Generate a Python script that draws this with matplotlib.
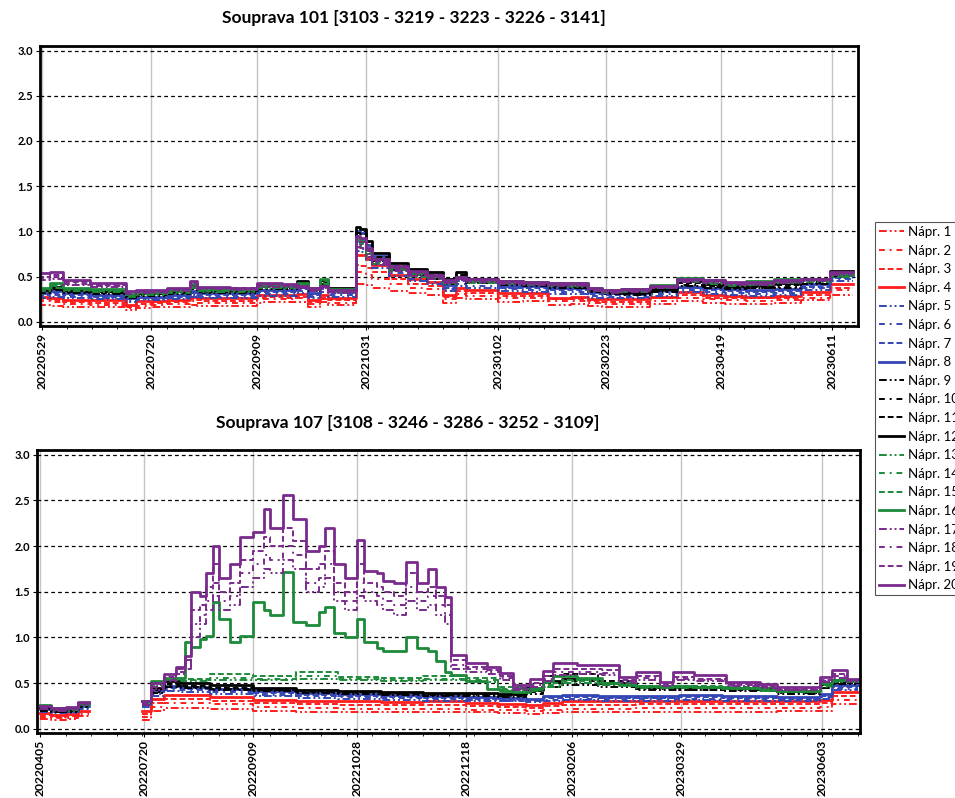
import matplotlib
matplotlib.use('Agg')
import matplotlib.pyplot as plt
import numpy as np
from matplotlib.ticker import FixedLocator, MultipleLocator

plt.rcParams['font.family'] = ['Lato', 'DejaVu Sans']

nan = np.nan

TITLE_TOP = 'Souprava 101 [3103 - 3219 - 3223 - 3226 - 3141]'
TITLE_BOTTOM = 'Souprava 107 [3108 - 3246 - 3286 - 3252 - 3109]'
LEGEND_LABELS = ['Nápr. 1', 'Nápr. 2', 'Nápr. 3', 'Nápr. 4', 'Nápr. 5',
                 'Nápr. 6', 'Nápr. 7', 'Nápr. 8', 'Nápr. 9', 'Nápr. 10',
                 'Nápr. 11', 'Nápr. 12', 'Nápr. 13', 'Nápr. 14', 'Nápr. 15',
                 'Nápr. 16', 'Nápr. 17', 'Nápr. 18', 'Nápr. 19', 'Nápr. 20']

# x axis = sample index (one per day), ticks labelled with the date
TOP_TICKS = [0, 52, 103, 155, 218, 270, 325, 378]
TOP_TICK_LABELS = ['20220529', '20220720', '20220909', '20221031',
                   '20230102', '20230223', '20230419', '20230611']
BOTTOM_TICKS = [0, 49, 100, 149, 200, 250, 301, 367]
BOTTOM_TICK_LABELS = ['20220405', '20220720', '20220909', '20221028',
                      '20221218', '20230206', '20230329', '20230603']

# ---- Souprava 101 ----
TOP_X = [-2, 4, 10, 23, 40, 45, 52, 60, 71, 74, 77, 90, 103, 106, 115, 122, 127,
         133, 137, 150, 152, 155, 158, 166, 175, 184, 192, 198, 203, 218, 230,
         242, 253, 261, 268, 277, 291, 304, 316, 327, 337, 350, 363, 377, 388]

TOP_RED = [
    [.19, .18, .17, .16, .13, .15, .16, .17, .19, .18, .18, .18, .21, .22, .22, .22, .17, .22, .19, .42, .42, .41, .38,
     .34, .32, .30, .21, .27, .25, .22, .23, .19, .20, .18, .17, .17, .20, .23, .21, .20, .20, .21, .24, .30, .30],
    [.23, .22, .20, .19, .15, .18, .19, .20, .23, .21, .21, .21, .25, .25, .25, .26, .20, .25, .21, .55, .55, .52, .48,
     .42, .38, .36, .25, .31, .29, .26, .27, .23, .23, .21, .20, .20, .23, .27, .25, .24, .23, .24, .27, .35, .35],
    [.25, .24, .22, .21, .17, .20, .21, .22, .25, .24, .23, .23, .27, .28, .27, .28, .22, .27, .24, .63, .62, .60, .55,
     .47, .42, .40, .28, .34, .32, .29, .29, .25, .25, .23, .22, .22, .26, .30, .27, .26, .26, .27, .30, .38, .38],
    [.28, .26, .24, .24, .19, .23, .23, .24, .28, .26, .26, .26, .30, .30, .30, .31, .24, .30, .26, .74, .74, .70, .63,
     .52, .47, .44, .30, .38, .35, .32, .32, .27, .28, .25, .25, .25, .28, .33, .30, .29, .28, .29, .33, .42, .42],
]
TOP_BLUE = [
    [.27, .28, .26, .25, .22, .24, .24, .25, .28, .27, .27, .27, .29, .29, .29, .32, .26, .33, .28, .78, .77, .68, .60,
     .51, .45, .42, .34, .40, .38, .34, .33, .31, .31, .27, .26, .27, .29, .33, .31, .30, .29, .30, .35, .45, .45],
    [.29, .30, .28, .27, .23, .25, .25, .27, .30, .28, .28, .28, .31, .31, .31, .34, .28, .36, .30, .82, .81, .72, .64,
     .54, .48, .44, .36, .42, .40, .36, .35, .33, .33, .29, .28, .28, .31, .35, .33, .32, .31, .32, .37, .47, .47],
    [.30, .32, .30, .28, .25, .27, .27, .28, .32, .30, .30, .30, .33, .33, .33, .36, .30, .38, .32, .88, .87, .78, .68,
     .57, .51, .47, .38, .45, .43, .38, .37, .35, .35, .31, .30, .30, .33, .37, .35, .34, .33, .34, .39, .49, .49],
    [.32, .34, .32, .30, .26, .28, .28, .30, .34, .32, .32, .32, .35, .35, .35, .39, .32, .41, .34, 1.00, .98, .85, .73,
     .61, .54, .50, .41, .49, .46, .40, .40, .37, .37, .33, .32, .32, .35, .39, .37, .36, .35, .36, .42, .52, .52],
]
TOP_BLACK = [
    [.32, .35, .32, .31, .27, .29, .29, .31, .36, .33, .32, .32, .36, .36, .36, .40, .34, .40, .34, .90, .89, .78, .67,
     .57, .52, .48, .42, .48, .43, .41, .40, .38, .37, .33, .31, .30, .33, .40, .38, .36, .37, .38, .42, .51, .51],
    [.33, .36, .33, .32, .28, .30, .30, .32, .37, .34, .33, .33, .37, .37, .37, .41, .35, .42, .35, .93, .92, .81, .69,
     .59, .54, .50, .43, .50, .44, .42, .41, .39, .38, .34, .32, .31, .34, .41, .39, .37, .38, .39, .43, .52, .52],
    [.34, .37, .34, .33, .29, .31, .31, .33, .39, .35, .34, .34, .38, .39, .38, .43, .36, .44, .36, .98, .97, .85, .72,
     .62, .56, .52, .45, .52, .46, .43, .42, .40, .39, .35, .33, .32, .35, .43, .40, .39, .39, .41, .45, .54, .54],
    [.35, .39, .35, .34, .30, .32, .32, .34, .41, .36, .35, .35, .40, .41, .40, .45, .37, .46, .37, 1.05, 1.03, .90, .76,
     .65, .59, .55, .47, .55, .48, .45, .44, .42, .40, .36, .34, .33, .36, .45, .42, .40, .41, .43, .47, .56, .56],
]
TOP_GREEN = [
    [.34, .38, .34, .33, .28, .30, .30, .32, .37, .34, .33, .33, .37, .37, .37, .39, .34, .42, .33, .85, .84, .73, .64,
     .56, .50, .47, .42, .46, .43, .42, .41, .40, .39, .34, .32, .33, .37, .44, .42, .40, .41, .43, .44, .50, .50],
    [.35, .40, .35, .34, .29, .31, .31, .33, .38, .35, .34, .34, .38, .38, .38, .40, .35, .43, .34, .88, .86, .75, .66,
     .57, .52, .48, .43, .47, .44, .43, .42, .41, .40, .35, .33, .34, .38, .45, .43, .41, .42, .44, .45, .51, .51],
    [.36, .41, .36, .35, .30, .32, .32, .34, .40, .36, .35, .35, .39, .40, .39, .41, .36, .45, .35, .90, .88, .77, .68,
     .59, .53, .50, .44, .48, .45, .44, .43, .42, .41, .36, .34, .35, .39, .47, .44, .42, .43, .45, .46, .52, .52],
    [.37, .43, .37, .36, .31, .33, .33, .35, .42, .37, .36, .36, .41, .41, .41, .43, .37, .48, .36, .93, .91, .80, .70,
     .61, .55, .51, .45, .50, .46, .45, .44, .43, .43, .37, .35, .36, .41, .49, .46, .43, .45, .47, .48, .53, .53],
]
TOP_PURPLE = [
    [.46, .48, .41, .39, .31, .32, .32, .34, .40, .36, .36, .35, .39, .39, .39, .37, .34, .37, .32, .83, .82, .72, .63,
     .56, .51, .48, .43, .46, .44, .42, .41, .40, .40, .34, .32, .33, .37, .44, .43, .41, .41, .43, .45, .52, .52],
    [.48, .50, .42, .40, .32, .33, .33, .35, .41, .37, .37, .36, .40, .40, .40, .38, .35, .38, .33, .86, .85, .75, .65,
     .58, .52, .49, .44, .47, .45, .43, .42, .41, .41, .35, .33, .34, .38, .45, .44, .42, .42, .44, .46, .53, .53],
    [.50, .52, .44, .41, .33, .34, .34, .36, .43, .38, .38, .37, .41, .42, .41, .39, .36, .39, .34, .90, .88, .78, .67,
     .60, .54, .50, .45, .48, .46, .44, .43, .42, .42, .36, .34, .35, .39, .46, .45, .43, .43, .45, .47, .54, .54],
    [.54, .55, .46, .43, .34, .35, .35, .37, .45, .39, .39, .38, .43, .43, .42, .40, .37, .40, .35, .95, .93, .82, .70,
     .62, .56, .52, .46, .50, .47, .45, .44, .43, .43, .37, .35, .36, .40, .48, .46, .44, .44, .46, .48, .55, .55],
]

# ---- Souprava 107 ----  (gap in the data between the two runs)
BOTTOM_X_COARSE = [0, 5, 12, 18, 23, 48, 52, 58, 66, 80, 100, 120, 140, 160, 180,
                   200, 215, 228, 236, 245, 262, 280, 300, 320, 346, 366, 372, 384]
BOTTOM_X_FINE = [0, 5, 12, 18, 23, 48, 52, 58, 64, 68, 71, 75, 78, 81, 84, 89, 94,
                 100, 105, 108, 114, 119, 125, 131, 134, 138, 143, 149, 152, 158,
                 161, 166, 172, 177, 182, 186, 190, 193, 200, 210, 216, 222, 230,
                 236, 241, 252, 264, 272, 280, 291, 297, 307, 322, 338, 346, 358,
                 366, 372, 379, 384]

BOTTOM_RED = [
    [.11, .10, .11, .14, nan, .10, .20, .23, .23, .22, .20, .19, .18, .18, .19, .18, .17, .16, .17, .18, .18, .19, .19,
     .19, .20, .20, .27, .27],
    [.13, .12, .12, .16, nan, .13, .24, .28, .28, .27, .24, .23, .22, .22, .22, .21, .21, .20, .21, .22, .22, .23, .23,
     .23, .23, .24, .32, .32],
    [.15, .13, .14, .18, nan, .16, .28, .33, .33, .31, .28, .27, .26, .26, .26, .25, .24, .23, .25, .26, .26, .27, .27,
     .27, .27, .28, .36, .36],
    [.17, .15, .16, .20, nan, .20, .33, .37, .37, .35, .32, .30, .30, .29, .30, .28, .27, .26, .28, .30, .30, .31, .31,
     .31, .31, .32, .40, .40],
]
BOTTOM_BLUE = [
    [.19, .17, .17, .22, nan, .24, .36, .41, .40, .38, .36, .34, .33, .32, .31, .30, .30, .29, .31, .32, .31, .31, .32,
     .31, .30, .33, .42, .42],
    [.20, .18, .18, .23, nan, .26, .38, .43, .42, .40, .37, .36, .35, .34, .33, .32, .31, .30, .32, .33, .33, .33, .33,
     .33, .32, .35, .44, .44],
    [.21, .19, .19, .24, nan, .28, .40, .45, .44, .42, .39, .37, .36, .35, .34, .33, .32, .31, .34, .35, .34, .34, .35,
     .34, .33, .36, .46, .46],
    [.22, .20, .20, .25, nan, .30, .42, .47, .46, .44, .41, .39, .38, .37, .36, .35, .34, .33, .36, .37, .36, .36, .37,
     .36, .35, .38, .48, .48],
]
BOTTOM_BLACK = [
    [.20, .18, .19, .24, nan, .26, .39, .46, .45, .43, .41, .39, .38, .37, .36, .36, .35, .38, .46, .48, .46, .43, .42,
     .41, .38, .45, .49, .49],
    [.21, .19, .20, .25, nan, .27, .40, .47, .46, .44, .42, .40, .39, .38, .37, .37, .36, .40, .50, .52, .48, .44, .43,
     .42, .39, .46, .50, .50],
    [.22, .20, .21, .26, nan, .28, .42, .49, .47, .45, .43, .41, .40, .39, .38, .38, .37, .45, .58, .60, .52, .47, .45,
     .44, .40, .48, .51, .51],
    [.24, .22, .22, .28, nan, .30, .45, .52, .50, .48, .45, .42, .41, .40, .39, .39, .38, .42, .52, .55, .50, .46, .46,
     .45, .41, .50, .53, .53],
]
BOTTOM_GREEN_LOW = [
    [.23, .20, .20, .25, nan, .28, .47, .53, .52, .54, .53, .55, .53, .52, .53, .51, .43, .41, .46, .50, .48, .45, .45,
     .44, .40, .46, .51, .51],
    [.24, .21, .21, .26, nan, .29, .48, .54, .53, .56, .55, .58, .55, .54, .55, .53, .44, .42, .48, .52, .49, .46, .46,
     .45, .41, .47, .52, .52],
    [.25, .22, .22, .27, nan, .30, .50, .56, .55, .60, .58, .62, .57, .56, .58, .56, .46, .44, .50, .54, .50, .47, .47,
     .46, .42, .48, .53, .53],
]
BOTTOM_GREEN_16 = [
    .26, .23, .23, .28, nan, .30, .52, .55, .56, .95, .90, .98, 1.02, 1.39, 1.20, .95, 1.02, 1.39, 1.30, 1.25, 1.72,
    1.17, 1.14, 1.28, 1.33, 1.05, 1.00, 1.20, .95, .89, .85, .85, 1.00, .88, .85, .74, .62, .59, .52, .44, .41, .40,
    .45, .52, .58, .56, .50, .48, .47, .46, .47, .46, .45, .42, .41, .41, .50, .54, .52, .52]
BOTTOM_PURPLE = [
    [.22, .20, .21, .26, nan, .26, .42, .52, .60, .66, 1.00, 1.15, 1.30, 1.45, 1.30, 1.35, 1.55, 1.65, 1.75, 1.70,
     1.85, 1.75, 1.50, 1.55, 1.65, 1.40, 1.30, 1.45, 1.40, 1.35, 1.30, 1.25, 1.40, 1.30, 1.35, 1.25, 1.15, .66, .62,
     .60, .54, .43, .46, .52, .59, .60, .59, .50, .54, .47, .53, .52, .47, .45, .42, .42, .51, .56, .51, .51],
    [.23, .21, .22, .27, nan, .27, .44, .54, .62, .70, 1.15, 1.25, 1.40, 1.60, 1.40, 1.45, 1.70, 1.80, 1.90, 1.85,
     2.00, 1.90, 1.60, 1.65, 1.80, 1.50, 1.40, 1.60, 1.50, 1.45, 1.40, 1.35, 1.55, 1.40, 1.45, 1.35, 1.25, .70, .65,
     .62, .56, .44, .48, .55, .62, .62, .61, .52, .56, .48, .55, .53, .48, .46, .43, .43, .52, .58, .52, .52],
    [.24, .22, .23, .28, nan, .28, .46, .57, .65, .75, 1.30, 1.35, 1.55, 1.80, 1.50, 1.60, 1.85, 1.95, 2.10, 2.00,
     2.20, 2.05, 1.75, 1.80, 1.95, 1.60, 1.50, 1.80, 1.60, 1.55, 1.50, 1.45, 1.70, 1.50, 1.55, 1.45, 1.35, .75, .68,
     .64, .58, .45, .50, .58, .66, .65, .64, .54, .58, .49, .57, .55, .49, .47, .44, .44, .54, .60, .53, .53],
    [.25, .23, .24, .29, nan, .30, .50, .60, .68, .80, 1.50, 1.45, 1.70, 2.00, 1.65, 1.80, 2.10, 2.15, 2.40, 2.20,
     2.56, 2.30, 1.95, 2.00, 2.20, 1.80, 1.65, 2.07, 1.73, 1.70, 1.62, 1.60, 1.82, 1.60, 1.75, 1.55, 1.44, .81, .72,
     .68, .61, .48, .55, .63, .72, .70, .70, .57, .62, .51, .62, .59, .51, .49, .46, .46, .57, .64, .55, .55],
]

COLORS = {'red': '#ff1c1c', 'blue': '#3346b3', 'black': '#000000',
          'green': '#1d8a3a', 'purple': '#7a2a8c'}
STYLES = [(0, (4, 1.5, 1, 1.5, 1, 1.5)), (0, (3, 2.5, 1, 2.5)), (0, (3, 1.5)), '-']
WIDTHS = [1.4, 1.4, 1.4, 2.0]


def style_axes(ax, ticks, labels, xlim):
    ax.set_xlim(*xlim)
    ax.set_ylim(-0.045, 3.05)
    ax.set_yticks(np.arange(0, 3.01, 0.5))
    ax.set_yticklabels(['%.1f' % v for v in np.arange(0, 3.01, 0.5)],
                       fontsize=8, fontweight='bold')
    ax.xaxis.set_major_locator(FixedLocator(ticks))
    ax.set_xticklabels(labels, rotation=90, fontsize=8.7, fontweight='bold')
    ax.xaxis.set_minor_locator(MultipleLocator(12))
    ax.tick_params(axis='both', which='major', length=3, width=0.8, pad=2)
    ax.tick_params(axis='x', which='minor', length=2, width=0.6)
    for s in ax.spines.values():
        s.set_linewidth(2.0)
    for y in np.arange(0, 3.01, 0.5):
        ax.axhline(y, color='black', lw=0.9, ls=(0, (3, 2.5)), zorder=1)
    for x in ticks:
        ax.axvline(x, color='#c4c4c4', lw=1.0, zorder=0.5)


def draw_group(ax, x, lines, color, first_style=0):
    out = []
    for k, vals in enumerate(lines):
        j = first_style + k
        ln, = ax.plot(x, vals, drawstyle='steps-post', color=color,
                      ls=STYLES[j], lw=WIDTHS[j], zorder=2)
        out.append(ln)
    return out


fig = plt.figure(figsize=(9.55, 7.98), dpi=100)
ax1 = fig.add_axes([40 / 955, 1 - 326 / 798, 818 / 955, 280 / 798])
ax2 = fig.add_axes([37 / 955, 1 - 733 / 798, 823 / 955, 283 / 798])

handles = []
for name, lines in [('red', TOP_RED), ('blue', TOP_BLUE), ('black', TOP_BLACK),
                    ('green', TOP_GREEN), ('purple', TOP_PURPLE)]:
    handles += draw_group(ax1, TOP_X, lines, COLORS[name])

draw_group(ax2, BOTTOM_X_COARSE, BOTTOM_RED, COLORS['red'])
draw_group(ax2, BOTTOM_X_COARSE, BOTTOM_BLUE, COLORS['blue'])
draw_group(ax2, BOTTOM_X_COARSE, BOTTOM_BLACK, COLORS['black'])
draw_group(ax2, BOTTOM_X_COARSE, BOTTOM_GREEN_LOW, COLORS['green'])
draw_group(ax2, BOTTOM_X_FINE, [BOTTOM_GREEN_16], COLORS['green'], first_style=3)
draw_group(ax2, BOTTOM_X_FINE, BOTTOM_PURPLE, COLORS['purple'])

style_axes(ax1, TOP_TICKS, TOP_TICK_LABELS, (-1, 390.4))
style_axes(ax2, BOTTOM_TICKS, BOTTOM_TICK_LABELS, (-1.4, 385))

fig.text(414 / 955, 1 - 18 / 798, TITLE_TOP, ha='center', va='center',
         fontsize=12.5, fontweight='bold')
fig.text(408 / 955, 1 - 423 / 798, TITLE_BOTTOM, ha='center', va='center',
         fontsize=12.5, fontweight='bold')

leg = fig.legend(handles, LEGEND_LABELS, loc='upper left',
                 bbox_to_anchor=(875 / 955, 1 - 222 / 798), fontsize=9.5,
                 handlelength=1.9, handletextpad=0.3, labelspacing=0.5,
                 borderpad=0.3, borderaxespad=0, fancybox=False, framealpha=1,
                 edgecolor='#555555')
leg.get_frame().set_linewidth(0.8)

fig.savefig('out.png', dpi=100)
